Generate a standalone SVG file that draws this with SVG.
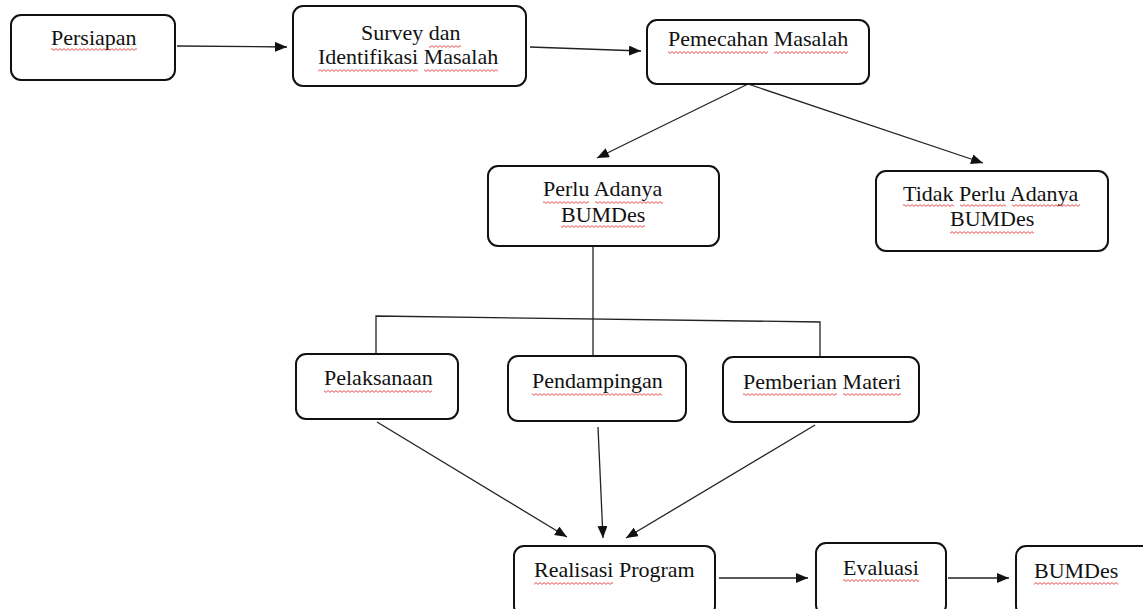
<svg xmlns="http://www.w3.org/2000/svg" width="1143" height="609" viewBox="0 0 1143 609">
<style>
.box{fill:#fff;stroke:#111;stroke-width:2}
.t{font-family:"Liberation Serif","Times New Roman",serif;font-size:22px;fill:#111}
.c{fill:none;stroke:#222;stroke-width:1.3}
.sq{fill:url(#sq)}
</style>
<defs>
<marker id="ah" viewBox="0 0 12 10" refX="12" refY="5" markerWidth="12" markerHeight="10" markerUnits="userSpaceOnUse" orient="auto">
<path d="M0,0 L12,5 L0,10 Z" fill="#111"/>
</marker>
<pattern id="sq" x="0" y="0" width="4" height="3" patternUnits="userSpaceOnUse">
<path d="M0,0.6 L2,2.4 L4,0.6" fill="none" stroke="#e02020" stroke-width="0.8"/>
</pattern>
</defs>
<rect width="1143" height="609" fill="#fff"/>
<g id="connectors">
<line class="c" x1="177" y1="46" x2="287" y2="47" marker-end="url(#ah)"/>
<line class="c" x1="530" y1="47" x2="641" y2="51" marker-end="url(#ah)"/>
<line class="c" x1="748" y1="84" x2="597" y2="158" marker-end="url(#ah)"/>
<line class="c" x1="748" y1="84" x2="983" y2="163" marker-end="url(#ah)"/>
<line class="c" x1="593" y1="247" x2="593" y2="356"/>
<polyline class="c" points="376,354 376,316 820,322 820,357"/>
<line class="c" x1="377" y1="422" x2="567" y2="537" marker-end="url(#ah)"/>
<line class="c" x1="598" y1="427" x2="603" y2="538" marker-end="url(#ah)"/>
<line class="c" x1="815" y1="425" x2="626" y2="538" marker-end="url(#ah)"/>
<line class="c" x1="719" y1="578" x2="808" y2="578" marker-end="url(#ah)"/>
<line class="c" x1="948" y1="578" x2="1009" y2="578" marker-end="url(#ah)"/>
</g>
<g id="persiapan">
<rect class="box" x="11" y="15" width="164" height="65" rx="10"/>
<text class="t" x="51" y="45">Persiapan</text>
<rect class="sq" x="51" y="48" width="86" height="3"/>
</g>
<g id="survey">
<rect class="box" x="293" y="6" width="233" height="80" rx="10"/>
<text class="t" x="361" y="40">Survey dan</text>
<text class="t" x="318" y="64">Identifikasi Masalah</text>
<rect class="sq" x="429" y="45" width="32" height="3"/>
<rect class="sq" x="318" y="69" width="100" height="3"/>
<rect class="sq" x="424" y="69" width="74" height="3"/>
</g>
<g id="pemecahan">
<rect class="box" x="647" y="20" width="222" height="64" rx="10"/>
<text class="t" x="668" y="46">Pemecahan Masalah</text>
<rect class="sq" x="668" y="51" width="100" height="3"/>
<rect class="sq" x="774" y="51" width="74" height="3"/>
</g>
<g id="perlu">
<rect class="box" x="488" y="166" width="231" height="80" rx="10"/>
<text class="t" x="543" y="196">Perlu Adanya</text>
<text class="t" x="561" y="222">BUMDes</text>
<rect class="sq" x="543" y="201" width="46" height="3"/>
<rect class="sq" x="595" y="201" width="68" height="3"/>
<rect class="sq" x="561" y="225" width="84" height="3"/>
</g>
<g id="tidak-perlu">
<rect class="box" x="876" y="171" width="232" height="80" rx="10"/>
<text class="t" x="903" y="201">Tidak Perlu Adanya</text>
<text class="t" x="950" y="226">BUMDes</text>
<rect class="sq" x="903" y="204" width="51" height="3"/>
<rect class="sq" x="960" y="204" width="46" height="3"/>
<rect class="sq" x="1012" y="204" width="68" height="3"/>
<rect class="sq" x="950" y="231" width="84" height="3"/>
</g>
<g id="pelaksanaan">
<rect class="box" x="296" y="354" width="162" height="65" rx="10"/>
<text class="t" x="324" y="385">Pelaksanaan</text>
<rect class="sq" x="324" y="390" width="108" height="3"/>
</g>
<g id="pendampingan">
<rect class="box" x="508" y="356" width="178" height="65" rx="10"/>
<text class="t" x="532" y="388">Pendampingan</text>
<rect class="sq" x="532" y="393" width="130" height="3"/>
</g>
<g id="pemberian-materi">
<rect class="box" x="723" y="357" width="196" height="65" rx="10"/>
<text class="t" x="743" y="389">Pemberian Materi</text>
<rect class="sq" x="743" y="393" width="94" height="3"/>
<rect class="sq" x="843" y="393" width="58" height="3"/>
</g>
<g id="realisasi">
<rect class="box" x="514" y="546" width="201" height="70" rx="10"/>
<text class="t" x="534" y="577">Realisasi Program</text>
<rect class="sq" x="534" y="582" width="79" height="3"/>
</g>
<g id="evaluasi">
<rect class="box" x="816" y="543" width="130" height="72" rx="10"/>
<text class="t" x="843" y="575">Evaluasi</text>
<rect class="sq" x="843" y="579" width="76" height="3"/>
</g>
<g id="bumdes">
<rect class="box" x="1016" y="546" width="140" height="70" rx="10"/>
<text class="t" x="1034" y="578">BUMDes</text>
<rect class="sq" x="1034" y="582" width="84" height="3"/>
</g>
</svg>
